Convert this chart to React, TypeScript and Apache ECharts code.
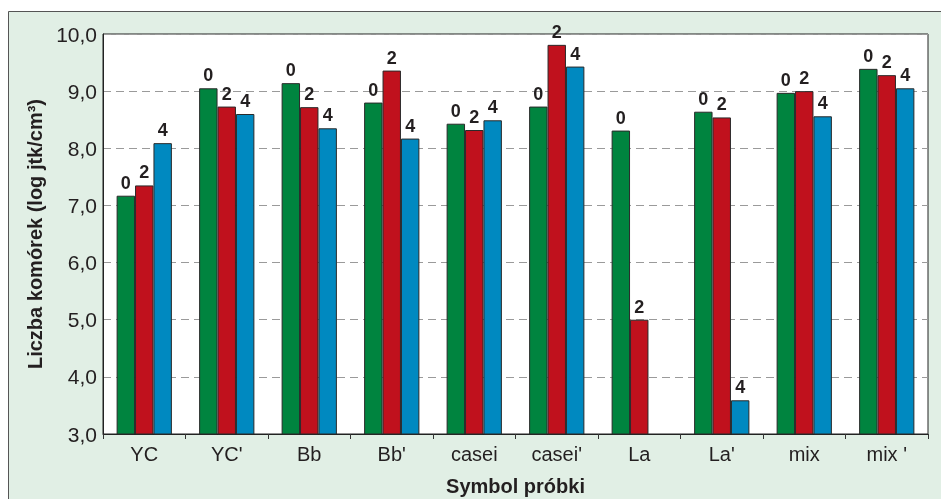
import React, { useEffect, useRef } from "react";
import * as echarts from "echarts";

const categories = ["YC", "YC'", "Bb", "Bb'", "casei", "casei'", "La", "La'", "mix", "mix '"];
const seriesNames = ["0", "2", "4"];
const values0 = [7.17, 9.05, 9.14, 8.8, 8.43, 8.73, 8.31, 8.64, 8.97, 9.39];
const values2 = [7.35, 8.73, 8.72, 9.36, 8.32, 9.81, 5.0, 8.54, 9.0, 9.28];
const values4: (number | null)[] = [8.09, 8.6, 8.35, 8.17, 8.49, 9.43, null, 3.59, 8.56, 9.05];
const yTicks = [3, 4, 5, 6, 7, 8, 9, 10];
const colors = ["#00843f", "#c0111d", "#0089c0"];

export default function App() {
  const ref = useRef<HTMLDivElement>(null);
  useEffect(() => {
    if (!ref.current) return;
    const chart = echarts.init(ref.current, undefined, { renderer: "svg" });
    const allValues = [values0, values2, values4];
    chart.setOption({
      animation: false,
      textStyle: { fontFamily: "Liberation Sans, Arial, sans-serif" },
      graphic: [
        {
          type: "rect",
          z: -10,
          shape: { x: 8.5, y: 11.5, width: 950, height: 500 },
          style: { fill: "#e1efe5", stroke: "#555", lineWidth: 1 },
        },
      ],
      grid: {
        left: 103,
        top: 34,
        right: 13,
        bottom: 65,
        outerBoundsMode: "none",
        containLabel: false,
        show: true,
        backgroundColor: "#ffffff",
        borderColor: "#222",
        borderWidth: 1,
        z: 0,
      },
      xAxis: {
        type: "category",
        data: categories,
        name: "Symbol próbki",
        nameLocation: "middle",
        nameGap: 42,
        nameTextStyle: { fontSize: 20, fontWeight: "bold", color: "#231f20" },
        axisLine: { lineStyle: { color: "#222", width: 1 } },
        axisTick: { show: true, length: 5, lineStyle: { color: "#333" } },
        axisLabel: { fontSize: 20, color: "#231f20", margin: 10 },
      },
      yAxis: {
        type: "value",
        min: yTicks[0],
        max: yTicks[yTicks.length - 1],
        interval: 1,
        name: "Liczba komórek (log jtk/cm³)",
        nameLocation: "middle",
        nameGap: 56,
        nameTextStyle: { fontSize: 20, fontWeight: "bold", color: "#231f20" },
        axisLine: { show: true, lineStyle: { color: "#222", width: 1 } },
        axisTick: { show: false },
        axisLabel: {
          fontSize: 21,
          color: "#231f20",
          margin: 6,
          formatter: (v: number) => v.toFixed(1).replace(".", ","),
        },
        splitLine: { show: true, lineStyle: { color: "#9a9a9a", type: [8, 5], width: 1 } },
      },
      series: seriesNames.map((name, i) => ({
        name,
        type: "bar",
        data: allValues[i].map((v) => (v === null ? "-" : v)),
        barGap: "0%",
        barCategoryGap: "33%",
        itemStyle: { color: colors[i], borderColor: "#2a2a2a", borderWidth: 1 },
        label: {
          show: true,
          position: "top",
          distance: 4,
          formatter: "{a}",
          fontSize: 18,
          fontWeight: "bold",
          color: "#231f20",
        },
      })),
    });
    return () => chart.dispose();
  }, []);
  return (
    <div
      ref={ref}
      style={{ position: "fixed", left: 0, top: 0, width: 941, height: 499 }}
    />
  );
}
